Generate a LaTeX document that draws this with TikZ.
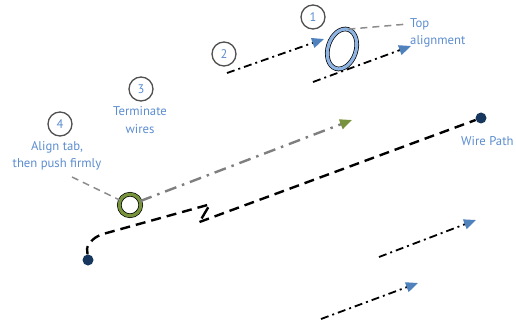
\documentclass[tikz,border=0pt]{standalone}
\usepackage{fontspec}
\setmainfont{PT Sans}
\usetikzlibrary{arrows.meta,shapes.geometric}
\definecolor{textblue}{RGB}{92,141,208}
\definecolor{numgray}{RGB}{80,80,80}
\definecolor{tipblue}{RGB}{79,129,189}
\definecolor{ringblue}{RGB}{142,180,227}
\definecolor{ringgreen}{RGB}{119,147,60}
\definecolor{navy}{RGB}{23,55,94}
\definecolor{leadgray}{RGB}{140,140,140}
\definecolor{pushgray}{RGB}{127,127,127}
\begin{document}
\begin{tikzpicture}[x=1pt,y=-1pt,
  numcirc/.style={shape=circle,draw=numgray,line width=1.3pt,minimum size=24pt,inner sep=0pt,text=textblue,font=\fontsize{12.5}{14}\selectfont},
  note/.style={text=textblue,font=\fontsize{12.7}{17.5}\selectfont,inner sep=0pt},
  dashdot/.style={line width=1.8pt,dash pattern=on 8pt off 4pt on 2pt off 4pt},
  bluetip/.style={-{Triangle[length=12pt,width=10pt,color=tipblue]}},
  wire/.style={line width=2.4pt,dash pattern=on 10pt off 6pt},
  pindot/.style={shape=circle,fill=navy,minimum size=11pt,inner sep=0pt},
  leader/.style={draw=leadgray,line width=1.5pt,dash pattern=on 7pt off 5pt},
  ring/.style={draw=black,line width=0.7pt,double distance=3.2pt,fill=white,inner sep=0pt}]
\useasboundingbox (0,0) rectangle (516,323);
% step numbers and notes
\node (n1) at (313,17) [numcirc] {1};
\node (n2) at (224,54) [numcirc] {2};
\node (n3) at (141,89) [numcirc] {3};
\node (n4) at (60,124) [numcirc] {4};
\node (termnote) at (140,120) [note,align=center] {Terminate\\wires};
\node (alignnote) at (57,156) [note,align=center] {Align tab,\\then push firmly};
\node (topnote) at (410,33) [note,align=left,anchor=west] {Top\\alignment};
\node (pathnote) at (461,141) [note,anchor=west] {Wire Path};
% rings
\node (ring1) at (342,49) [ring,double=ringblue,shape=ellipse,minimum width=28pt,minimum height=41pt,rotate=-18] {};
\node (ring2) at (130,205) [ring,double=ringgreen,shape=circle,minimum size=21.5pt] {};
% wire ends
\node (dotA) at (88,260) [pindot] {};
\node (dotB) at (481,118) [pindot] {};
\coordinate (stemtop) at (87,248);
\coordinate (wireA) at (103,234);
\coordinate (zigA) at (210,204.3);
\coordinate (zigB) at (199.5,222);
% free ends
\coordinate (topend) at (408,24);
\coordinate (alignend) at (72,177);
\coordinate (termtip) at (352,120);
\coordinate (a2s) at (227,73);
\coordinate (a2e) at (324,39);
\coordinate (a1s) at (313,82);
\coordinate (a1e) at (411,46);
\coordinate (a3s) at (379,257);
\coordinate (a3e) at (476,220);
\coordinate (a4s) at (321,319);
\coordinate (a4e) at (418,283);
% connectors
\draw[leader] (ring1.north) -- (topend);
\draw[leader] (alignend) -- (ring2);
\draw[dashdot,bluetip] (a2s) -- (a2e);
\draw[dashdot,bluetip] (a1s) -- (a1e);
\draw[dashdot,bluetip] (a3s) -- (a3e);
\draw[dashdot,bluetip] (a4s) -- (a4e);
\draw[draw=pushgray,line width=2.4pt,dash pattern=on 12pt off 6pt on 2.5pt off 6pt,-{Triangle[length=12pt,width=10pt,color=ringgreen]}] (ring2) -- (termtip);
\draw[line width=2.4pt] (dotA) -- (stemtop);
\draw[wire,dash phase=13pt] (zigA) -- (wireA) .. controls (95,236.5) and (89,242) .. (stemtop);
\draw[wire,dash pattern=on 0pt off 3.5pt on 13pt off 10pt] (zigA) -- (zigB);
\draw[wire] (zigB) -- (dotB);
\end{tikzpicture}
\end{document}
